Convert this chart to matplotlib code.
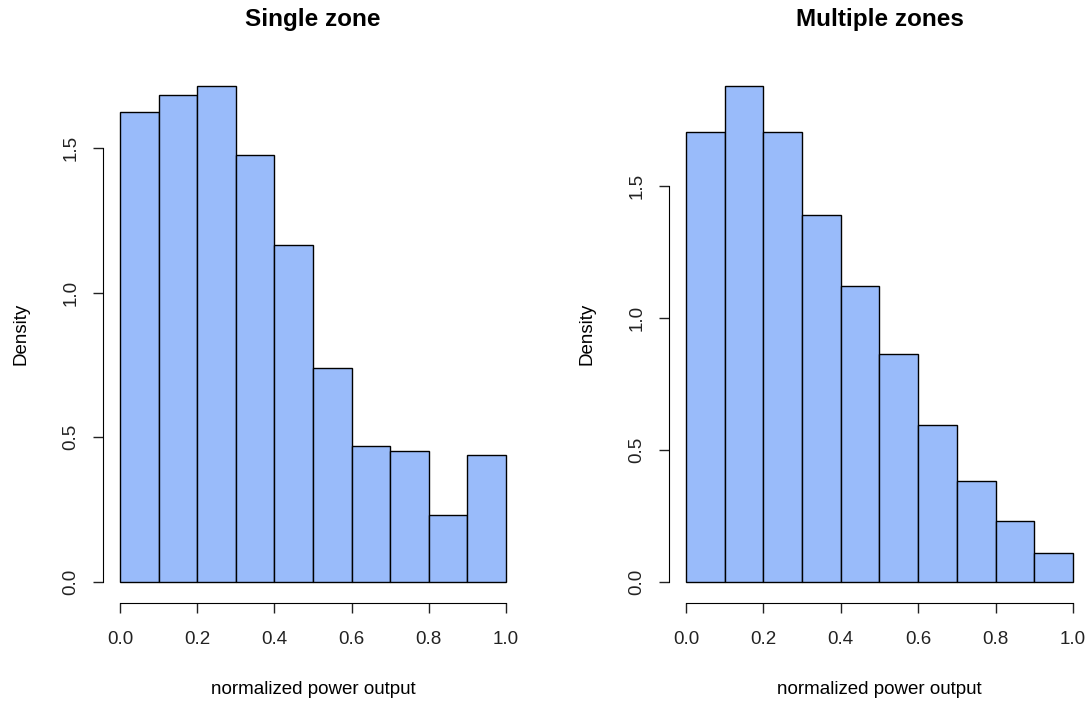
import numpy as np
import matplotlib
matplotlib.use("Agg")
from matplotlib import pyplot as plt

# histogram bins and densities
edges = np.linspace(0.0, 1.0, 11)
single_zone = [1.625, 1.683, 1.714, 1.476, 1.165, 0.740, 0.470, 0.453, 0.232, 0.439]
multi_zone = [1.705, 1.879, 1.705, 1.390, 1.121, 0.864, 0.595, 0.383, 0.231, 0.110]
titles = ["Single zone", "Multiple zones"]
xticks = [0.0, 0.2, 0.4, 0.6, 0.8, 1.0]
yticks = [0.0, 0.5, 1.0, 1.5]

bar_color = "#99BBFA"


def r_hist(ax, dens, title):
    widths = np.diff(edges)
    ax.bar(edges[:-1], dens, width=widths, align="edge", color=bar_color,
           edgecolor="black", linewidth=1.0)
    top = max(dens)
    ax.set_xlim(-0.04, 1.04)
    ax.set_ylim(-0.04 * top, top * 1.04)
    for s in ["top", "right"]:
        ax.spines[s].set_visible(False)
    ax.spines["left"].set_bounds(yticks[0], yticks[-1])
    ax.spines["bottom"].set_bounds(xticks[0], xticks[-1])
    ax.spines["bottom"].set_position(("outward", 1))
    ax.spines["left"].set_position(("outward", 1))
    ax.set_xticks(xticks)
    ax.set_xticklabels(["%.1f" % v for v in xticks])
    ax.set_yticks(yticks)
    ax.set_yticklabels(["%.1f" % v for v in yticks], rotation=90, va="center")
    ax.tick_params(direction="out", length=7, width=1, labelsize=13.5,
                   colors="#222222")
    ax.tick_params(axis="x", pad=13)
    ax.tick_params(axis="y", pad=10)
    ax.set_title(title, fontsize=17.5, fontweight="bold", pad=0, y=1.075)
    ax.set_xlabel("normalized power output", fontsize=13.5, labelpad=24)
    ax.set_ylabel("Density", fontsize=13.5, labelpad=24)


def main():
    plt.rcParams["font.family"] = ["Liberation Sans", "DejaVu Sans"]
    fig = plt.figure(figsize=(10.91, 7.01), dpi=100)
    ax1 = fig.add_axes([0.0959, 0.1415, 0.382, 0.7643])
    ax2 = fig.add_axes([0.6146, 0.1415, 0.383, 0.7643])
    r_hist(ax1, single_zone, titles[0])
    r_hist(ax2, multi_zone, titles[1])
    fig.savefig("out.png", dpi=100)


if __name__ == "__main__":
    main()
